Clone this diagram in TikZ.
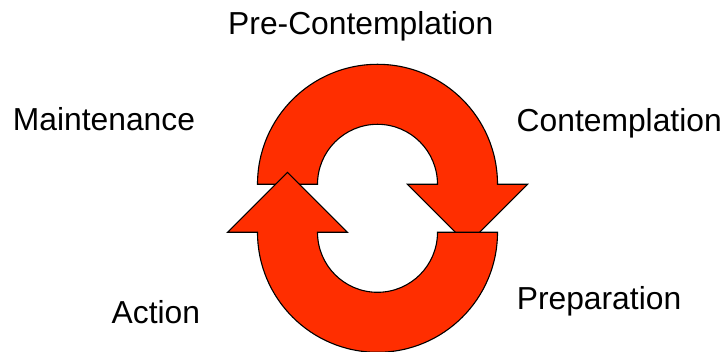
\documentclass[tikz,border=0pt]{standalone}
\usepackage{fontspec}
\setmainfont{Liberation Sans}
\definecolor{cyclered}{HTML}{FF2E00}
\begin{document}
\begin{tikzpicture}[x=1pt,y=1pt,
  cyclearrow/.style={fill=cyclered,draw=black,line width=1.1pt,line join=miter},
  stagelabel/.style={anchor=base west,inner sep=0pt,font=\fontsize{31.8}{32}\selectfont}]
\useasboundingbox (0,0) rectangle (725,352);
% top arrow (drawn first)
\draw[cyclearrow] (257.5,167.7) arc[start angle=180,end angle=0,radius=120]
  -- (527.5,167.7) -- (467.5,107.7) -- (407.5,167.7) -- (437.5,167.7)
  arc[start angle=0,end angle=180,radius=60] -- cycle;
% bottom arrow (on top)
\draw[cyclearrow] (497.5,119.7) arc[start angle=0,end angle=-180,radius=120]
  -- (227.5,119.7) -- (287.5,179.7) -- (347.5,119.7) -- (317.5,119.7)
  arc[start angle=180,end angle=360,radius=60] -- cycle;
\node[stagelabel] (pre) at (228,317) {Pre-Contemplation};
\node[stagelabel] (main) at (12.7,221) {Maintenance};
\node[stagelabel] (cont) at (516.5,220.3) {Contemplation};
\node[stagelabel] (prep) at (516.6,42) {Preparation};
\node[stagelabel] (act) at (111.5,28.7) {Action};
\end{tikzpicture}
\end{document}
